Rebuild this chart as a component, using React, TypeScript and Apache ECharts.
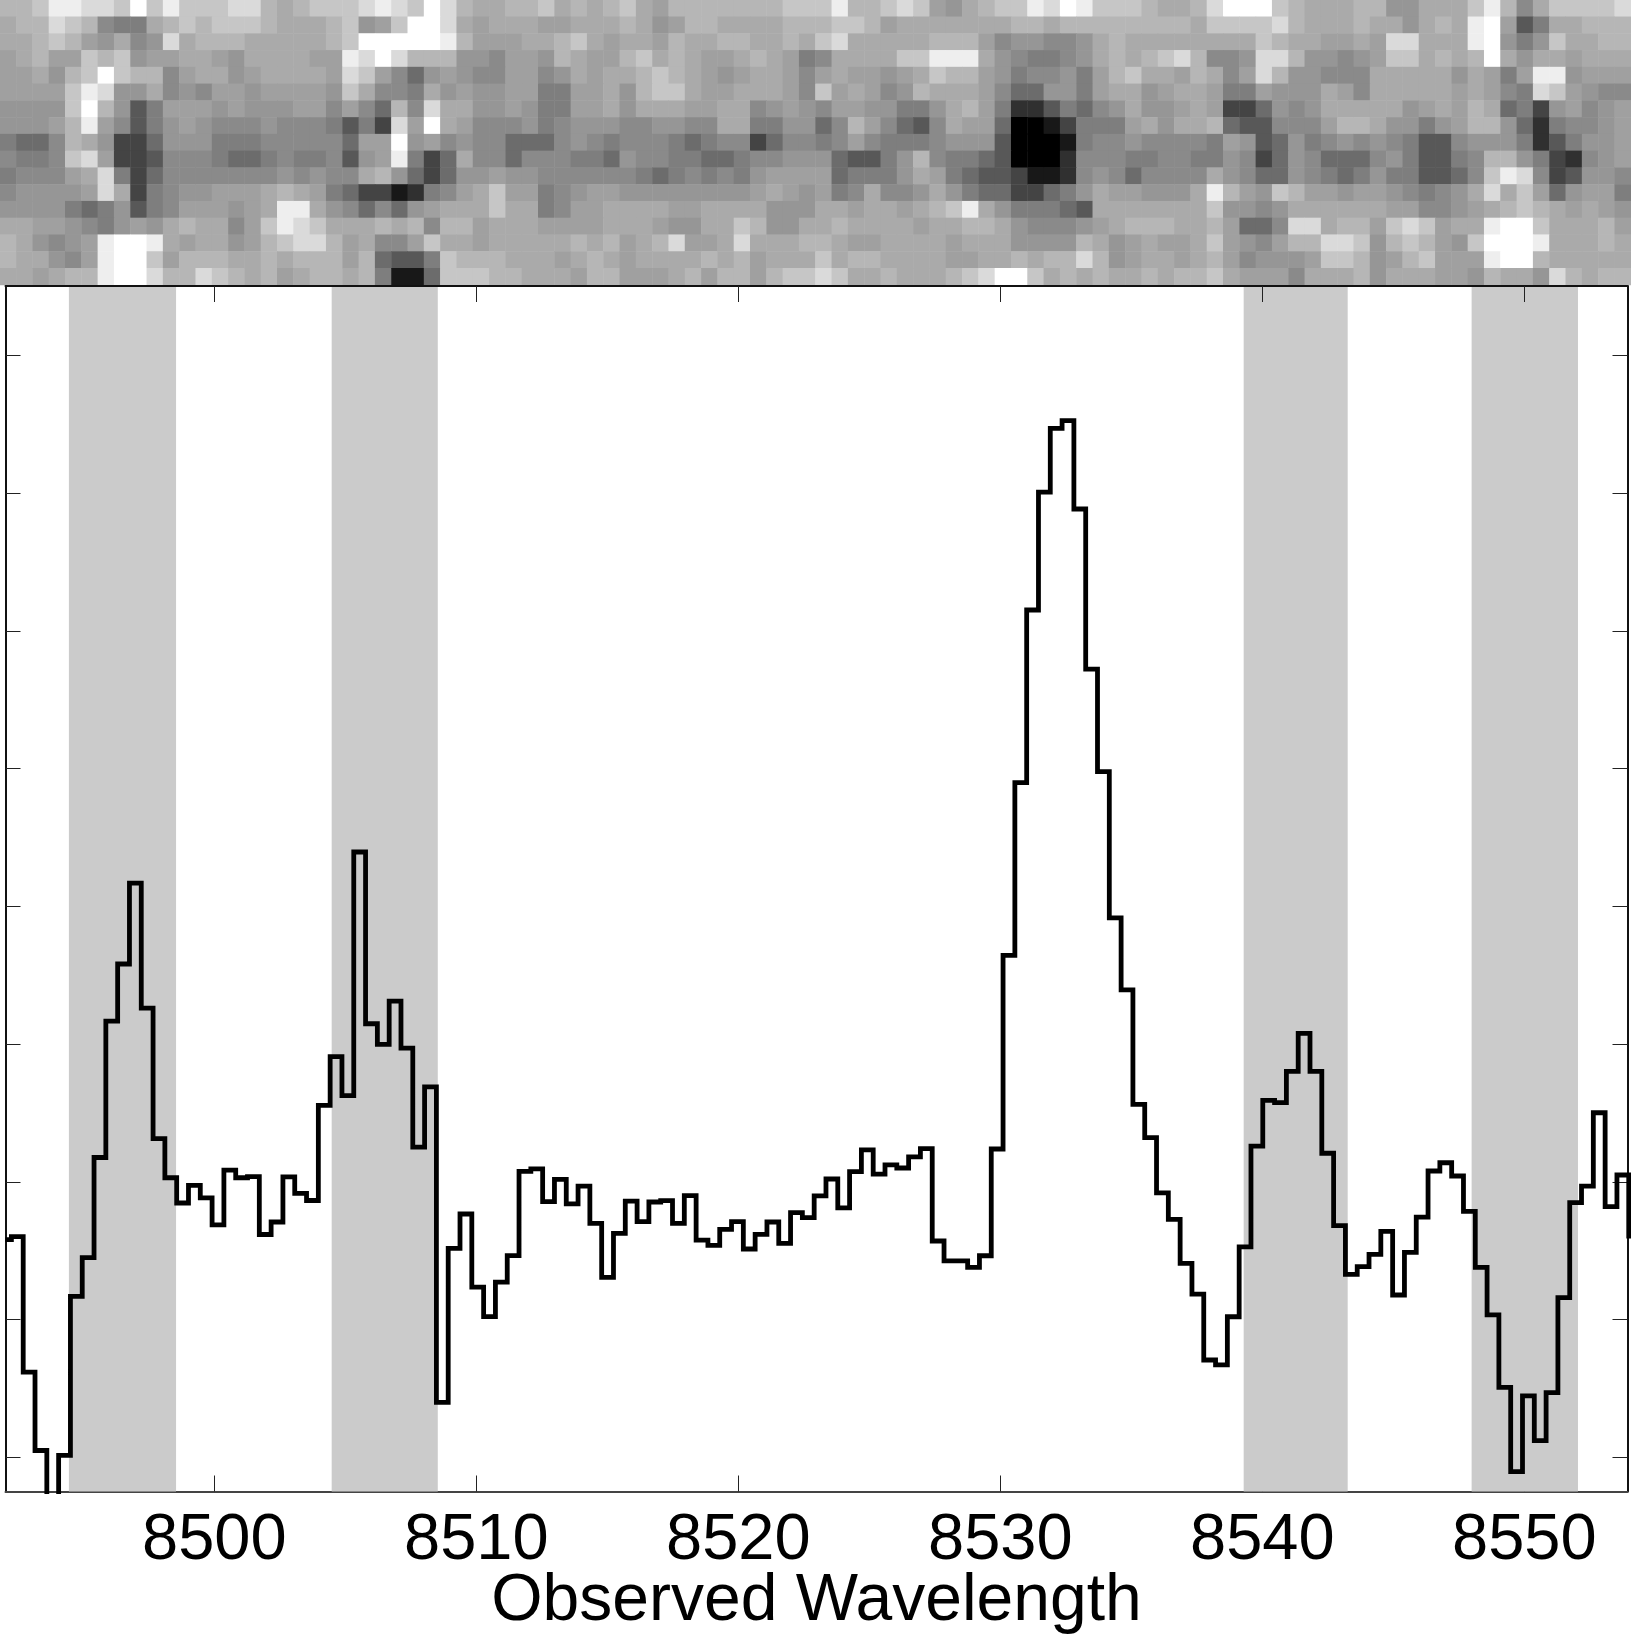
import React, { useEffect, useRef } from "react";
import * as echarts from "echarts";

// Spectrum (tick units of the unlabelled y axis), one value per 0.4506 A bin
const firstWavelength = 8492.03;
const binWidth = 0.4506;
const flux = [
  1.581, 1.603, 0.619, 0.05, -0.5, 0.014, 1.169, 1.45, 2.177, 3.167, 3.582, 4.169, 3.262, 2.314, 2.03, 1.847, 1.975,
  1.884, 1.688, 2.085, 2.03, 2.039, 1.618, 1.709, 2.036, 1.917, 1.865, 2.556, 2.91, 2.626, 4.395, 3.148, 2.999, 3.313,
  2.971, 2.253, 2.69, 0.399, 1.517, 1.767, 1.236, 1.022, 1.273, 1.465, 2.076, 2.094, 1.857, 2.019, 1.84, 1.97, 1.699,
  1.307, 1.627, 1.861, 1.711, 1.854, 1.864, 1.699, 1.9, 1.578, 1.539, 1.656, 1.711, 1.513, 1.619, 1.709, 1.554, 1.777,
  1.74, 1.898, 2.021, 1.811, 2.074, 2.232, 2.057, 2.123, 2.101, 2.181, 2.241, 1.571, 1.426, 1.426, 1.38, 1.464, 2.239,
  3.644, 4.898, 6.152, 7.008, 7.471, 7.526, 6.885, 5.723, 4.978, 3.917, 3.394, 2.563, 2.321, 1.921, 1.728, 1.409, 1.186,
  0.707, 0.671, 1.021, 1.529, 2.26, 2.592, 2.575, 2.802, 3.078, 2.802, 2.208, 1.682, 1.329, 1.385, 1.474, 1.641, 1.179,
  1.488, 1.745, 2.079, 2.139, 2.043, 1.786, 1.38, 1.034, 0.509, -0.104, 0.446, 0.122, 0.47, 1.16, 1.849, 1.97, 2.502,
  1.82, 2.05, 1.606,
];

const bandStarts = [8494.45, 8504.48, 8539.29, 8547.99];
const bandEnds = [8498.54, 8508.53, 8543.26, 8552.05];
const wavelengthTicks = [8500, 8510, 8520, 8530, 8540, 8550];
const fluxTicks = [0, 1, 2, 3, 4, 5, 6, 7, 8];
const xMin = 8492.03;
const xMax = 8553.94;
const yMin = -0.2476;
const yMax = 8.504;

// 2D spectrum image, grey level per cell in hex (0 black, f white), top row first
const imageA = [
  "bbceeddcfcecccddbabcccded", "abbdcb766abcbcccbaaabc89c", "aabcb98a78dabbbaaaaabcfff", "9ab99cbc899aa98aaaa99edfd",
  "99a8bcfcbb79aa89aaaa9dc97", "9999ced88a78799899998ca77", "8888cfb84699989888997975b", "8889be974689877787776463d",
  "6557ba833588866677777599f", "7667cd933477765567667489e", "67779ad635777777787877ab8", "788889da36788999aba965331",
  "8888656846799989aeea87575", "aa99876898abaa79cedcaaaba", "ba8789effea9aa89bcddb9a77", "baa879effc9bbbaababbb9b54",
  "aa9abbeffdbbdcbab9abbab61",
];
const imageB = [
  "cfdbaabbcababca9bbbbbbbcc", "ffda9aaa99aaaba89bbaaaabb", "ffeb999aabca9aa9baabbaaba", "bbb887998ba99bcaba99aba96",
  "5898779978a9aabcba989aa97", "6a8988996699a8bcca99aaa97", "7daa88986699a8aaa99aa7898", "9fa9777867888778877aa6688",
  "8978775557876777656773577", "635a775777665877665567788", "5358898877777765676768999", "2679ac9967899888888889a98",
  "89aaacaa6799aaaa99aaaa888", "b7bb9aaa9999aaa988aacb88a", "9caa9aaaaabab9abd99adaaab", "46cbbbaaa9aba9aaaabab9aaa",
  "15cccbbaaa9bb999ab9bb9bcc",
];
const imageC = [
  "cebbcdc98abccedfecccbaabd", "bccb9aaaaaaabbabbbbbbbbac", "cdaaaaabbb9788778abaaaaaa", "7aaaacceeea876678ababcdb7",
  "9a9989acbb98677869bcaa9ba", "c9a978baaa97558869aa89aa9", "79988668ab962246578a889a9", "57b97547a99500136669a8aab",
  "6797666788840001677877776", "854468b766540002777667766", "956668a96544311278757777a", "967a778a865533568a99888ae",
  "aa9aa9abcea866654aaaaaaac", "abaaaa9aabba877789abbbaab", "ba99aaaa9aaa8888ba89a99ac", "cabbaaaa99aababbdb89aa9ab",
  "dcaabaaabcdffcababaababbc",
];
const imageD = [
  "fffcbaaabb88aaaceb7accccd", "cccdbaaabaa8abaef946aabbb", "aacbaa99a9ddaaaef868caabb", "78ddb88789ccababfa8aa9aaa",
  "79db88777aaaaa8a969ee8999", "669888a97aaaaa9a976dc9877", "335878aaaaa89a9ba56389789", "5447779bba88689bb85267789",
  "9845867878764478886246889", "8735875557864467bb8632789", "8755876568664457ced734887", "b98cb9989987678adac958996",
  "8878aaaaaa997789abcba9a98", "9557ddabb9cdc9aaeffcaaab9", "9879bbddc8bcb98cfffeaaaba", "978889ccb89bc999effbaaaaa",
  "a9997aaab8aaa998baa8dbabb",
];

const greyRamp = [
  "#000000", "#181818", "#303030", "#444444", "#585858", "#6c6c6c", "#7e7e7e", "#8a8a8a",
  "#969696", "#a0a0a0", "#aaaaaa", "#b6b6b6", "#c6c6c6", "#dadada", "#eeeeee", "#ffffff",
];

const FONT = "'Liberation Sans', Arial, Helvetica, sans-serif";

export default function App() {
  const ref = useRef<HTMLDivElement | null>(null);

  useEffect(() => {
    document.body.style.margin = "0";
    document.body.style.background = "#fff";
    const chart = echarts.init(ref.current!, null, { renderer: "svg" });

    const rows = imageA.map((r, i) => r + imageB[i] + imageC[i] + imageD[i]);
    const nCols = rows[0].length;
    const cols = Array.from({ length: nCols }, (_, i) => String(i));
    const rowNames = rows.map((_, i) => String(i));
    const heat: number[][] = [];
    rows.forEach((r, y) => {
      for (let x = 0; x < r.length; x++) heat.push([x, y, parseInt(r[x], 16)]);
    });

    const line = flux.map((v, i) => [firstWavelength + i * binWidth, v]);
    const bands = bandStarts.map((s, i) => [{ xAxis: s }, { xAxis: bandEnds[i] }]);

    const frame = { show: true, onZero: false, lineStyle: { color: "#111", width: 2 } };

    chart.setOption({
      animation: false,
      backgroundColor: "#fff",
      grid: [
        { left: 0, top: 0, width: 1631, height: 285, outerBoundsMode: "none" },
        { left: 5.5, top: 286, width: 1622, height: 1205.5, outerBoundsMode: "none" },
      ],
      visualMap: {
        show: false,
        seriesIndex: 0,
        min: 0,
        max: 15,
        inRange: { color: greyRamp },
      },
      xAxis: [
        { type: "category", gridIndex: 0, data: cols, show: false },
        {
          type: "value",
          gridIndex: 1,
          position: "bottom",
          min: xMin,
          max: xMax,
          splitLine: { show: false },
          axisLine: { ...frame, lineStyle: { color: "#444", width: 2 } },
          axisTick: {
            show: true,
            inside: true,
            length: 16,
            customValues: wavelengthTicks,
            lineStyle: { color: "#222", width: 1 },
          },
          axisLabel: {
            show: true,
            customValues: wavelengthTicks,
            margin: 12,
            fontSize: 65,
            fontFamily: FONT,
            color: "#000",
            formatter: (v: number) => String(v),
          },
          name: "Observed Wavelength",
          nameLocation: "middle",
          nameGap: 72,
          nameMoveOverlap: false,
          nameTextStyle: { fontSize: 66, fontFamily: FONT, color: "#000" },
        },
        {
          type: "value",
          gridIndex: 1,
          position: "top",
          min: xMin,
          max: xMax,
          z: 5,
          splitLine: { show: false },
          axisLine: frame,
          axisTick: {
            show: true,
            inside: true,
            length: 16,
            customValues: wavelengthTicks,
            lineStyle: { color: "#222", width: 1 },
          },
          axisLabel: { show: false },
        },
      ],
      yAxis: [
        { type: "category", gridIndex: 0, data: rowNames, inverse: true, show: false },
        {
          type: "value",
          gridIndex: 1,
          position: "left",
          min: yMin,
          max: yMax,
          splitLine: { show: false },
          axisLine: frame,
          axisTick: {
            show: true,
            inside: true,
            length: 15,
            customValues: fluxTicks,
            lineStyle: { color: "#222", width: 1 },
          },
          axisLabel: { show: false },
        },
        {
          type: "value",
          gridIndex: 1,
          position: "right",
          min: yMin,
          max: yMax,
          splitLine: { show: false },
          axisLine: frame,
          axisTick: {
            show: true,
            inside: true,
            length: 15,
            customValues: fluxTicks,
            lineStyle: { color: "#222", width: 1 },
          },
          axisLabel: { show: false },
        },
      ],
      series: [
        {
          type: "heatmap",
          xAxisIndex: 0,
          yAxisIndex: 0,
          data: heat,
          silent: true,
          itemStyle: { borderWidth: 0 },
        },
        {
          type: "line",
          xAxisIndex: 1,
          yAxisIndex: 1,
          z: 1,
          data: [],
          silent: true,
          markArea: {
            silent: true,
            itemStyle: { color: "#cbcbcb", opacity: 1 },
            data: bands,
          },
        },
        {
          type: "line",
          xAxisIndex: 1,
          yAxisIndex: 1,
          z: 3,
          step: "middle",
          data: line,
          showSymbol: false,
          symbol: "none",
          clip: true,
          silent: true,
          lineStyle: { color: "#000", width: 4.8, join: "miter" },
        },
      ],
    });

    return () => chart.dispose();
  }, []);

  return <div ref={ref} style={{ width: 1631, height: 1634 }} />;
}
